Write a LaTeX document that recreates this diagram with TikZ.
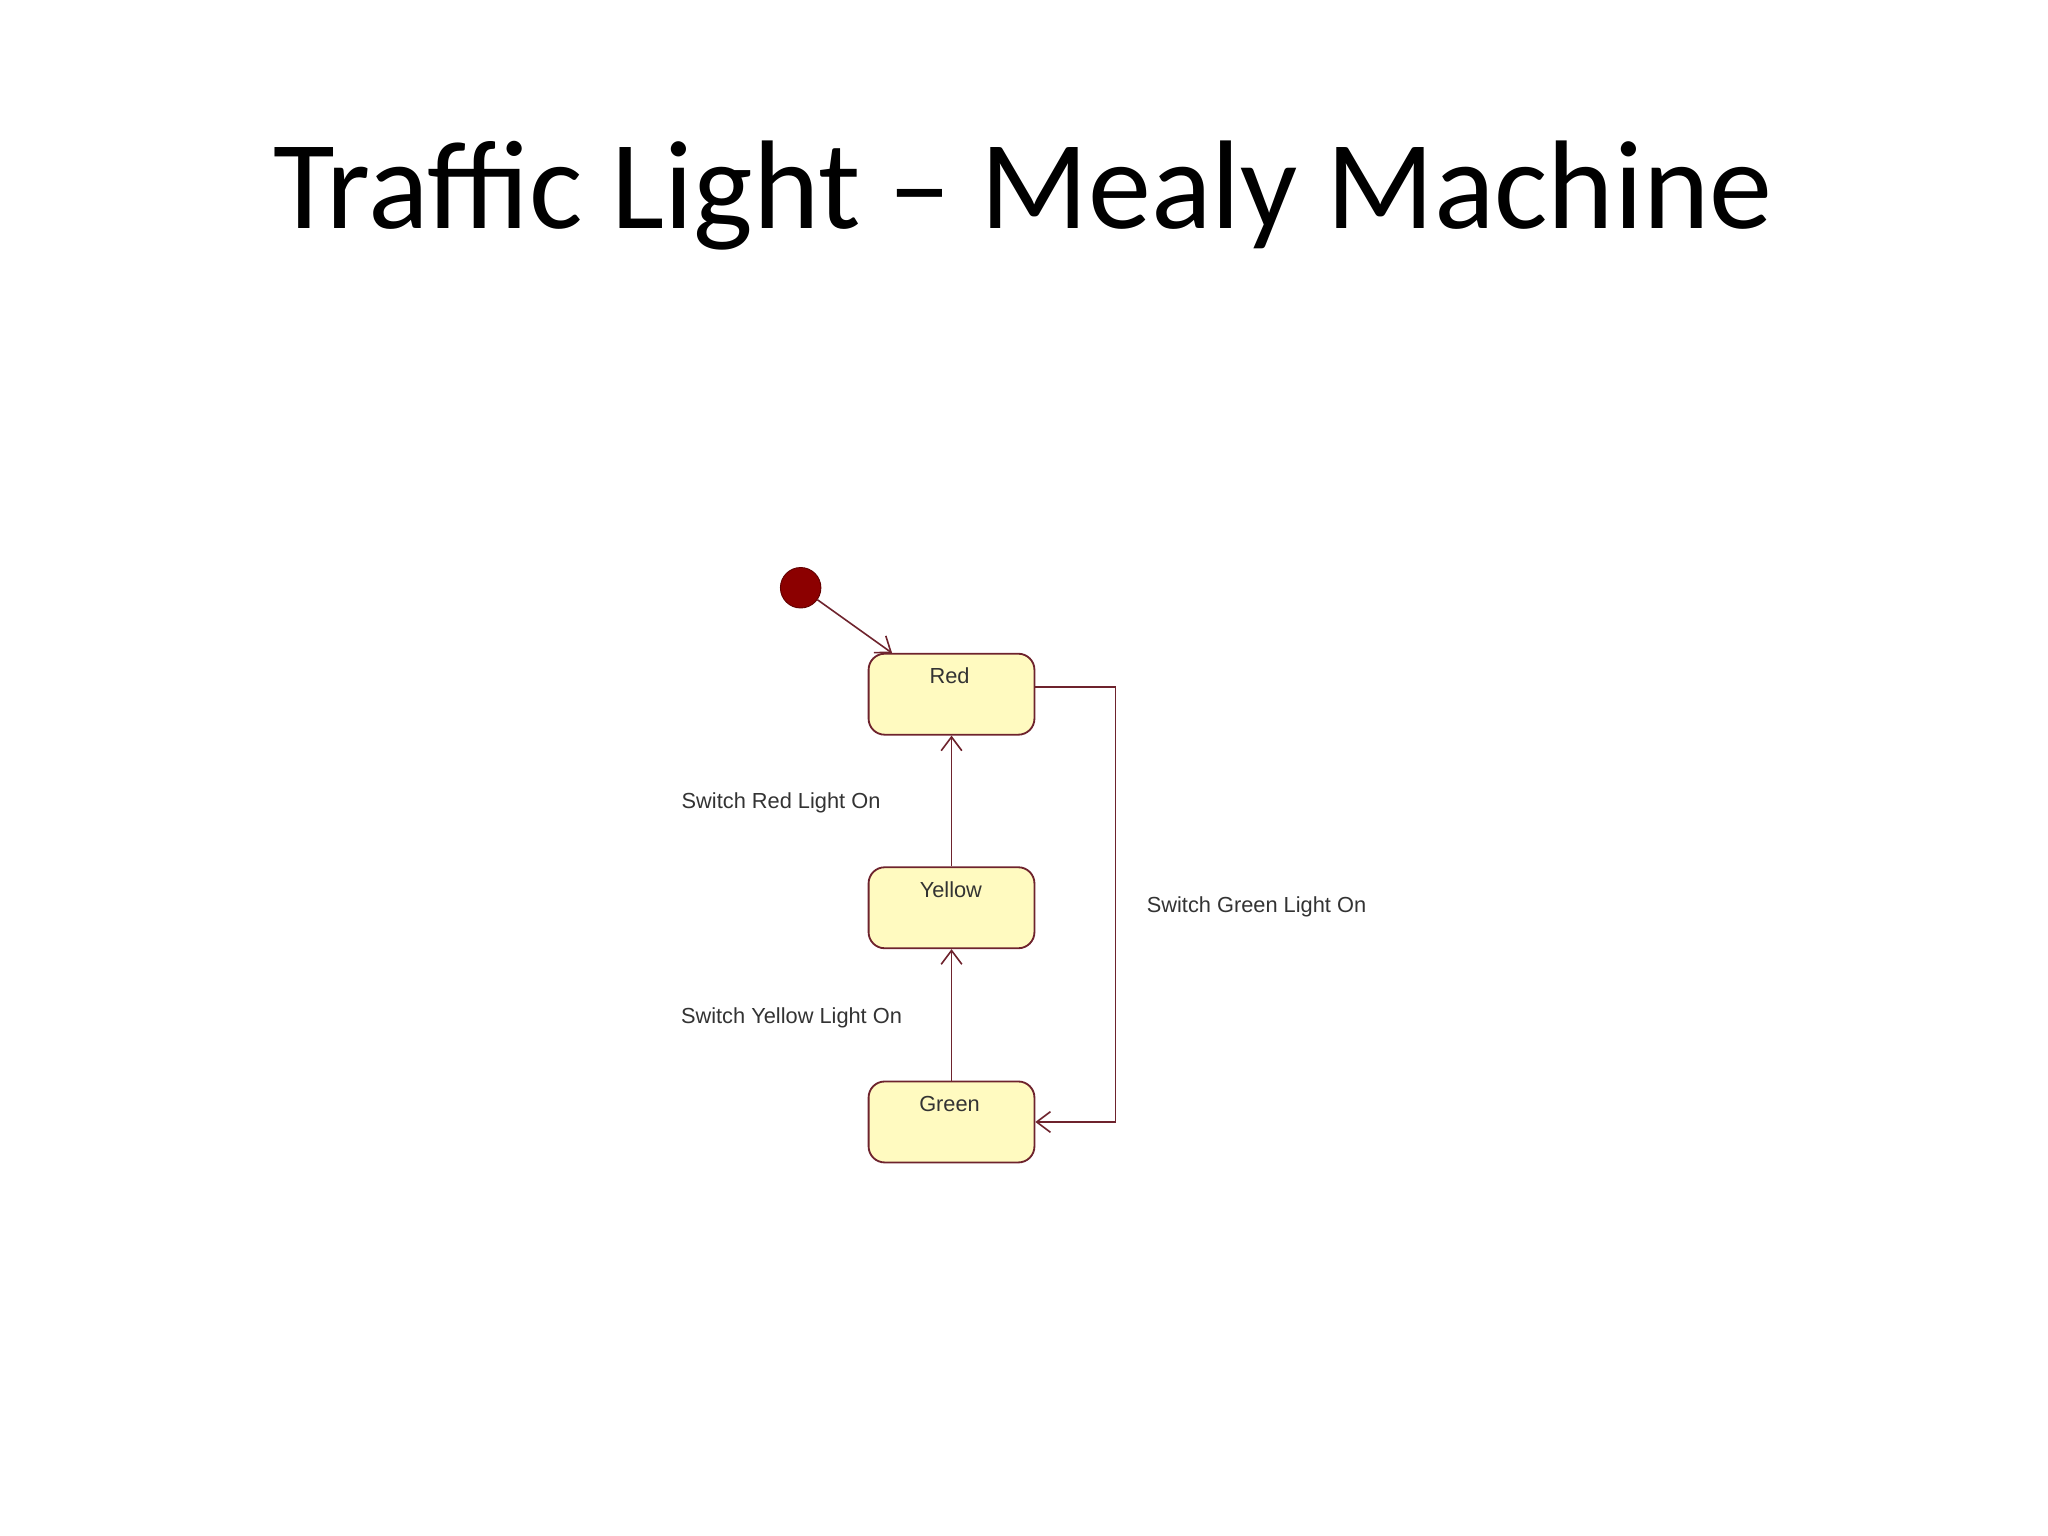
\documentclass[tikz,border=0pt]{standalone}
\usepackage{fontspec}
\setmainfont{Carlito}
\newfontfamily\lblfont{Liberation Sans}
\usetikzlibrary{arrows.meta}
\definecolor{edge}{RGB}{110,35,45}
\definecolor{boxfill}{RGB}{255,250,192}
\definecolor{dotred}{RGB}{140,0,0}
\tikzset{
  statebox/.style={draw=edge, fill=boxfill, rounded corners=7pt, minimum width=2.54cm, minimum height=1.24cm, inner sep=0pt, line width=0.8pt},
  lbl/.style={font=\lblfont\fontsize{9.5}{11}\selectfont, text=black!80, inner sep=0pt},
  conn/.style={draw=edge, line width=0.7pt, -{Straight Barb[length=6pt,width=9pt]}}
}
\begin{document}
\begin{tikzpicture}[x=0.02cm,y=-0.02cm]
\useasboundingbox (0,0) rectangle (1568,1176);
\node[font=\fontsize{55}{56}\selectfont] (title) at (783,150) {Traffic Light – Mealy Machine};
\node[circle, fill=dotred, draw=dotred!70!black, minimum size=0.62cm, inner sep=0pt] (init) at (613,450) {};
\node[statebox] (red) at (728.5,531.5) {};
\node[statebox] (yellow) at (728.5,695) {};
\node[statebox] (green) at (728.5,859) {};
\node[lbl] (tred) at (727,517) {Red};
\node[lbl] (tyellow) at (728,681) {Yellow};
\node[lbl] (tgreen) at (727,845) {Green};
\coordinate (ia) at (683,500);
\draw[conn] (init) -- (ia);
\draw[conn] (yellow.north) -- (red.south);
\draw[conn] (green.north) -- (yellow.south);
\coordinate (c1) at (854,526);
\coordinate (c2) at (854,859);
\draw[conn] (red.east |- c1) -- (c1) -- (c2) -- (green.east);
\node[lbl] (l1) at (598,615) {Switch Red Light On};
\node[lbl] (l2) at (606,779) {Switch Yellow Light On};
\node[lbl] (l3) at (962,694) {Switch Green Light On};
\end{tikzpicture}
\end{document}
